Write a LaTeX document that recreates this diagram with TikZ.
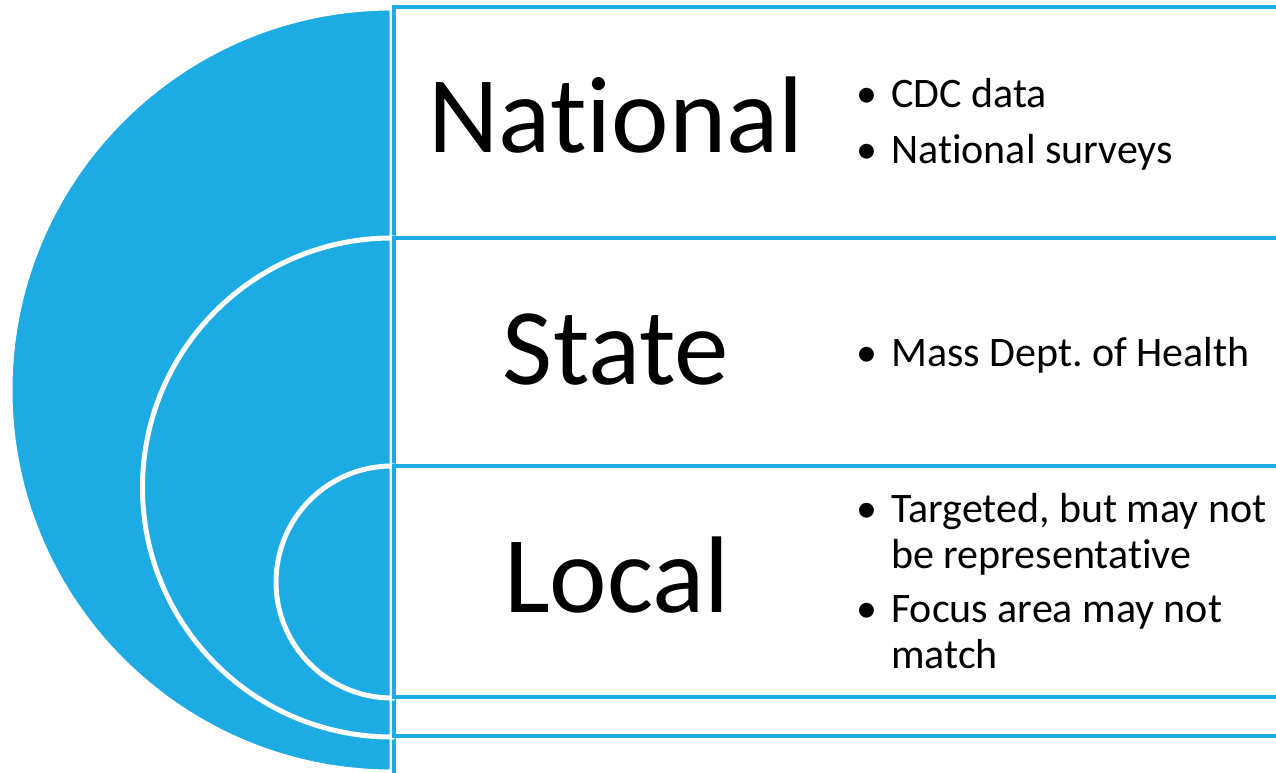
\documentclass[tikz,border=0pt]{standalone}
\usepackage{fontspec}
\setmainfont{Carlito}[Ligatures=NoCommon]
\definecolor{sky}{RGB}{29,171,227}
\newcommand\bul{\llap{\textbullet\hspace{14pt}}}
\frenchspacing
\begin{document}
\begin{tikzpicture}[x=1pt, y=-1pt, line join=miter,
		disc/.style={fill=sky, draw=white, line width=5pt},
		databox/.style={fill=white, draw=sky, line width=3.5pt},
		level/.style={font=\fontsize{109}{130}\selectfont, anchor=base, inner sep=0pt},
		item/.style={font=\fontsize{42}{46}\selectfont, anchor=base west, align=left, inner sep=0pt}]
	\useasboundingbox (0,0) rectangle (1276,773);
	\coordinate (N) at (392,390);
	\coordinate (S) at (392,487.5);
	\coordinate (L) at (392,582);
	\draw[disc] (392,8) arc (270:90:382) -- cycle;
	\draw[databox] (394,7) rectangle (1290,790);
	\draw[disc] (392,238) arc (270:90:249.5) -- cycle;
	\draw[databox] (394,238) rectangle (1290,736);
	\draw[disc] (392,466) arc (270:90:116) -- cycle;
	\draw[databox] (394,466) rectangle (1290,697);
	\node[level] (national) at (616,153) {National};
	\node[level] (state) at (616,384) {State};
	\node[level] (local) at (617,612) {Local};
	\node[item] (cdc) at (891,108) {\bul CDC data};
	\node[item] (surveys) at (891,163) {\bul National surveys};
	\node[item] (mdph) at (891,366) {\bul Mass Dept. of Health};
	\node[item] (targeted) at (891,568) {\bul Targeted, but may not\\be representative};
	\node[item] (focus) at (891,668) {\bul Focus area may not\\match};
\end{tikzpicture}
\end{document}
